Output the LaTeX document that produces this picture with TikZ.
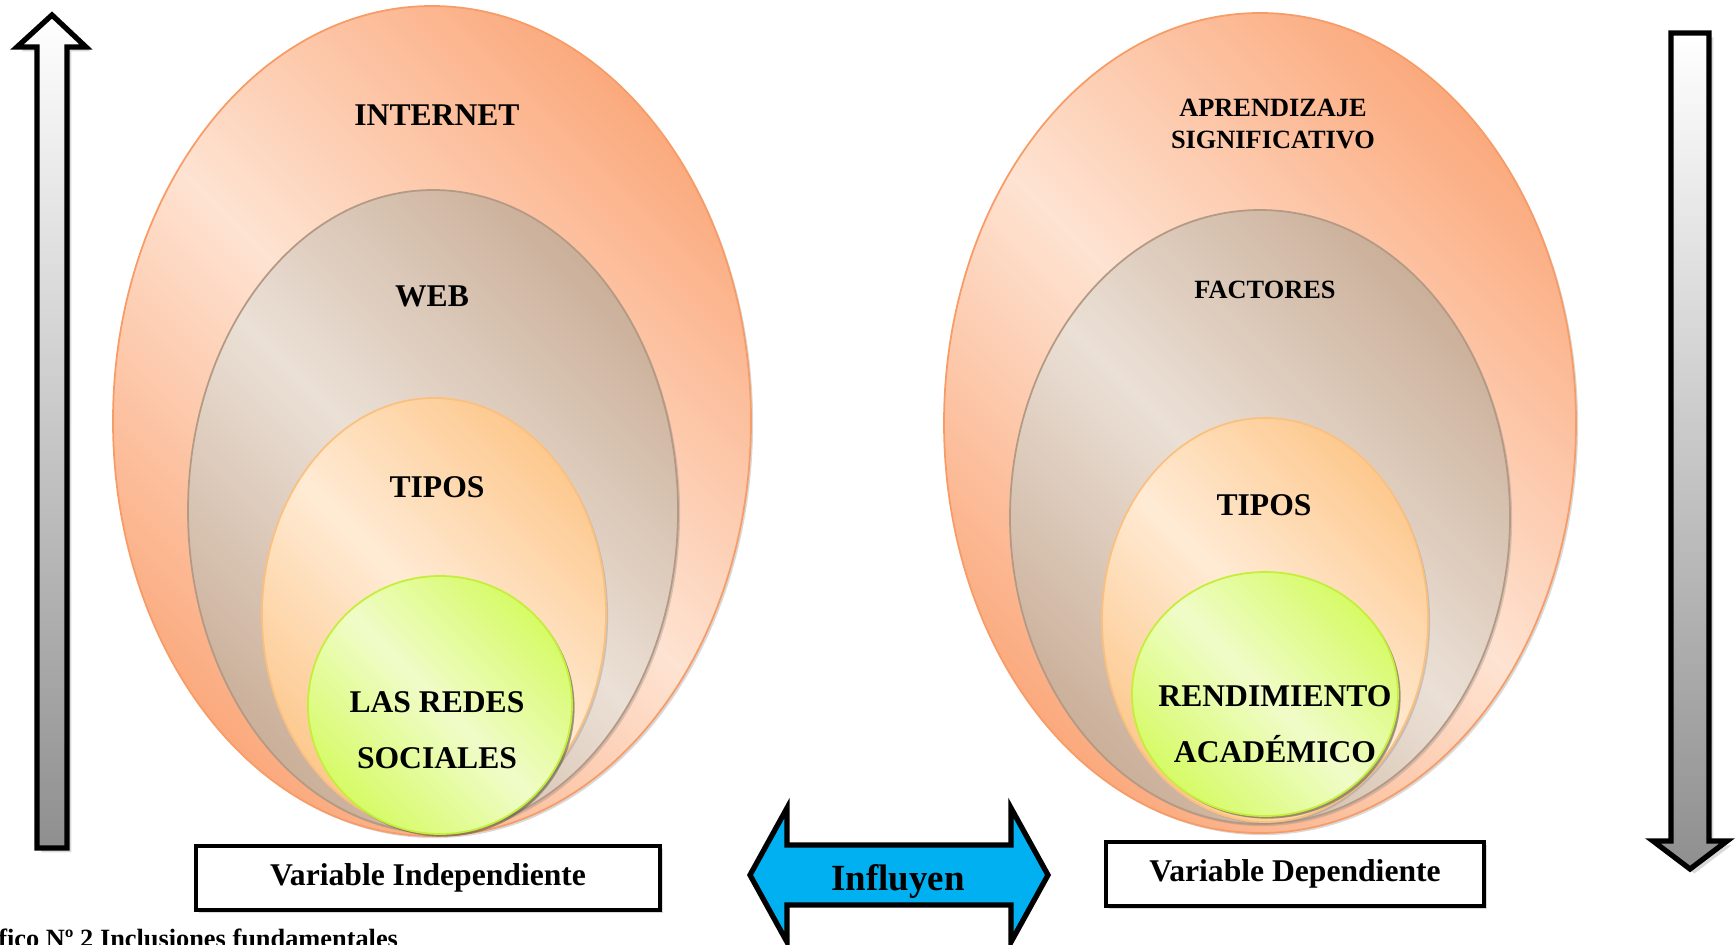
\documentclass[tikz,border=0pt]{standalone}
\usepackage{fontspec}
\setmainfont{Liberation Serif}
\usetikzlibrary{shadows}

\definecolor{peachLight}{HTML}{FEE3D2}
\definecolor{peachDark}{HTML}{FBAA7E}
\definecolor{peachLine}{HTML}{F79C66}
\definecolor{webLight}{HTML}{EBE0D6}
\definecolor{webDark}{HTML}{CBB09A}
\definecolor{webLine}{HTML}{B49A84}
\definecolor{tipLight}{HTML}{FFEBD5}
\definecolor{tipDark}{HTML}{FDC98F}
\definecolor{tipLine}{HTML}{FBC07E}
\definecolor{greenLight}{HTML}{F0FCC9}
\definecolor{greenDark}{HTML}{D6FB66}
\definecolor{greenLine}{HTML}{C4EE3A}
\definecolor{arrowGray}{HTML}{8F8F8F}
\definecolor{influBlue}{HTML}{00B0F0}

\begin{document}
\begin{tikzpicture}[x=0.02cm,y=-0.02cm,
    circ/.style={line width=1pt,drop shadow={opacity=0.3,shadow xshift=1.2pt,shadow yshift=-1.2pt}},
    peach/.style={circ,draw=peachLine,top color=peachDark,bottom color=peachDark,middle color=peachLight,shading angle=-45},
    web/.style={circ,draw=webLine,top color=webDark,bottom color=webDark,middle color=webLight,shading angle=-45},
    tip/.style={circ,draw=tipLine,top color=tipDark,bottom color=tipDark,middle color=tipLight,shading angle=-45},
    core/.style={circ,draw=greenLine,top color=greenDark,bottom color=greenDark,middle color=greenLight,shading angle=-45,
      drop shadow={opacity=0.45,fill=black!60!olive,shadow xshift=1.5pt,shadow yshift=-1.5pt}},
    tag/.style={font=\bfseries\fontsize{18}{32}\selectfont,align=center,inner sep=0pt},
    smalltag/.style={font=\bfseries\fontsize{15}{18}\selectfont,align=center,inner sep=0pt},
    bigarrow/.style={draw=black,line width=3pt,miter limit=10,top color=white,bottom color=arrowGray,
      drop shadow={opacity=0.3,shadow xshift=2.5pt,shadow yshift=-2.5pt}},
    varbox/.style={draw,line width=1.8pt,fill=white,minimum width=9.28cm,minimum height=1.28cm,
      font=\bfseries\fontsize{18}{22}\selectfont,drop shadow={opacity=0.3,shadow xshift=1.5pt,shadow yshift=-1.5pt}}]
  \useasboundingbox (0,0) rectangle (1736,944);
  \clip (0,0) rectangle (1736,944);
  \path
    (432,421)  coordinate (inet)
    (433,511)  coordinate (web)
    (434,614)  coordinate (tipL)
    (440,705)  coordinate (redes)
    (1260,423) coordinate (apren)
    (1260,517) coordinate (fact)
    (1265,620) coordinate (tipR)
    (1265,694) coordinate (rend);
  \path[peach] (inet) ellipse [x radius=319,y radius=415];
  \path[web]   (web)  ellipse [x radius=245,y radius=321];
  \path[tip]   (tipL) ellipse [x radius=172,y radius=216];
  \path[core]  (redes) ellipse [x radius=132,y radius=129];
  \path[peach] (apren) ellipse [x radius=316,y radius=410];
  \path[web]   (fact)  ellipse [x radius=250,y radius=307];
  \path[tip]   (tipR)  ellipse [x radius=163,y radius=202];
  \path[core]  (rend)  ellipse [x radius=133,y radius=122];
  \node[tag] (tInet)  at (437,115) {INTERNET};
  \node[tag] (tWeb)   at (432,296) {WEB};
  \node[tag] (tTipL)  at (437,487) {TIPOS};
  \node[tag] (tRedes) at (437,730) {LAS REDES\\SOCIALES};
  \node[smalltag] (tApren) at (1273,124) {APRENDIZAJE\\SIGNIFICATIVO};
  \node[smalltag] (tFact)  at (1265,290) {FACTORES};
  \node[tag] (tTipR)  at (1264,505) {TIPOS};
  \node[tag] (tRend)  at (1275,724) {RENDIMIENTO\\ACADÉMICO};
  \path[bigarrow] (37,848) -- (37,47) -- (17,47) -- (52,15) -- (86,47) -- (67,47) -- (67,848) -- cycle;
  \path[bigarrow] (1671,33) -- (1709,33) -- (1709,841) -- (1727,841) -- (1690,869) -- (1653,841) -- (1671,841) -- cycle;
  \node[varbox] (vInd) at (428,878) {Variable Independiente};
  \node[varbox,minimum width=7.56cm] (vDep) at (1295,874) {Variable Dependiente};
  \draw[line width=3pt,fill=influBlue,miter limit=10]
    (750,875) -- (787,808) -- (787,845) -- (1011,845) -- (1011,808) -- (1048,875)
    -- (1011,942) -- (1011,905) -- (787,905) -- (787,942) -- cycle;
  \node[anchor=base,inner sep=0pt,font=\bfseries\fontsize{21}{24}\selectfont] (influ) at (898,890) {Influyen};
  \node[anchor=base west,inner sep=0pt,font=\bfseries\fontsize{15}{18}\selectfont] (caption) at (-2,947) {fico Nº 2 Inclusiones fundamentales};
\end{tikzpicture}
\end{document}
